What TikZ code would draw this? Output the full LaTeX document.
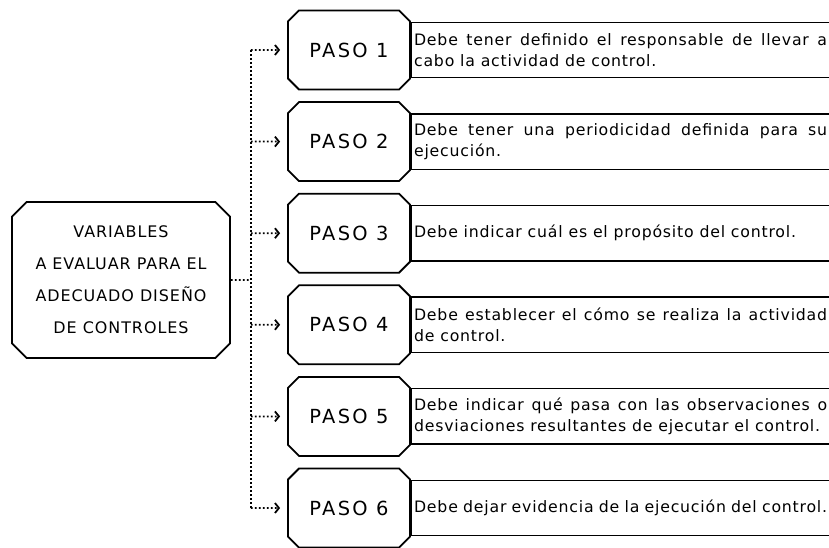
\documentclass[tikz,border=0pt]{standalone}
\usepackage{fontspec}
\setmainfont{DejaVu Sans}
\newfontfamily\pasofont[LetterSpace=12]{DejaVu Sans}
\newfontfamily\varfont[LetterSpace=6]{DejaVu Sans}
\newfontfamily\descfont[LetterSpace=5]{DejaVu Sans}
\usepackage{tikz}
\usetikzlibrary{shapes.misc, positioning, arrows.meta}

\begin{document}
\begin{tikzpicture}[x=1bp,y=-1bp,node distance=91.6bp,
                    paso node/.style={chamfered rectangle,chamfered rectangle xsep=11bp,draw,line width=1.8bp,
                                      minimum width=122bp,minimum height=79bp,inner sep=0pt,
                                      font=\pasofont\fontsize{19.5}{19.5}\selectfont},
                    desc node/.style={inner xsep=3bp,inner ysep=0pt,minimum height=55bp,text width=413bp,
                                      align=justify,font=\descfont\fontsize{15.8}{21}\selectfont},
                    dotline/.style={line width=1.8bp,dash pattern=on 1.8bp off 2.2bp}]
  \useasboundingbox (0,0) rectangle (829,548);
%left box
  \node[paso node,minimum width=218bp,minimum height=156bp,align=center,
        font=\varfont\fontsize{16}{32}\selectfont] (v) at (121,280)
        {VARIABLES\\A EVALUAR PARA EL\\ADECUADO DISEÑO\\DE CONTROLES};
%pasos
  \node[paso node] (p1) at (349,50) {PASO 1};
  \node[paso node] (p2) [below of=p1] {PASO 2};
  \node[paso node] (p3) [below of=p2] {PASO 3};
  \node[paso node] (p4) [below of=p3] {PASO 4};
  \node[paso node] (p5) [below of=p4] {PASO 5};
  \node[paso node] (p6) [below of=p5] {PASO 6};
%descriptions
  \node[desc node] (d1) [right=0pt of p1] {Debe tener definido el responsable de llevar a\linebreak cabo la actividad de control.};
  \node[desc node] (d2) [right=0pt of p2] {Debe tener una periodicidad definida para su\linebreak ejecución.};
  \node[desc node] (d3) [right=0pt of p3] {Debe indicar cuál es el propósito del control.};
  \node[desc node] (d4) [right=0pt of p4] {Debe establecer el cómo se realiza la actividad\linebreak de control.};
  \node[desc node] (d5) [right=0pt of p5] {Debe indicar qué pasa con las observaciones o\linebreak desviaciones resultantes de ejecutar el control.};
  \node[desc node] (d6) [right=0pt of p6] {Debe dejar evidencia de la ejecución del control.};
  \foreach \i in {1,...,6}
    \draw[line width=1.5bp] ([xshift=8bp]d\i.north east) -- (d\i.north west) -- (d\i.south west) -- ([xshift=8bp]d\i.south east);

%connectors
  \coordinate[right=20bp of v] (j);
  \draw[dotline] (v) -- (j);
  \draw[dotline] (p1 -| j) -- (p6 -| j);
  \foreach \i in {1,...,6}
    \draw[dotline,-{Straight Barb[length=4bp,width=10bp]},shorten >=7bp] (p\i -| j) -- (p\i);
\end{tikzpicture}
\end{document}
